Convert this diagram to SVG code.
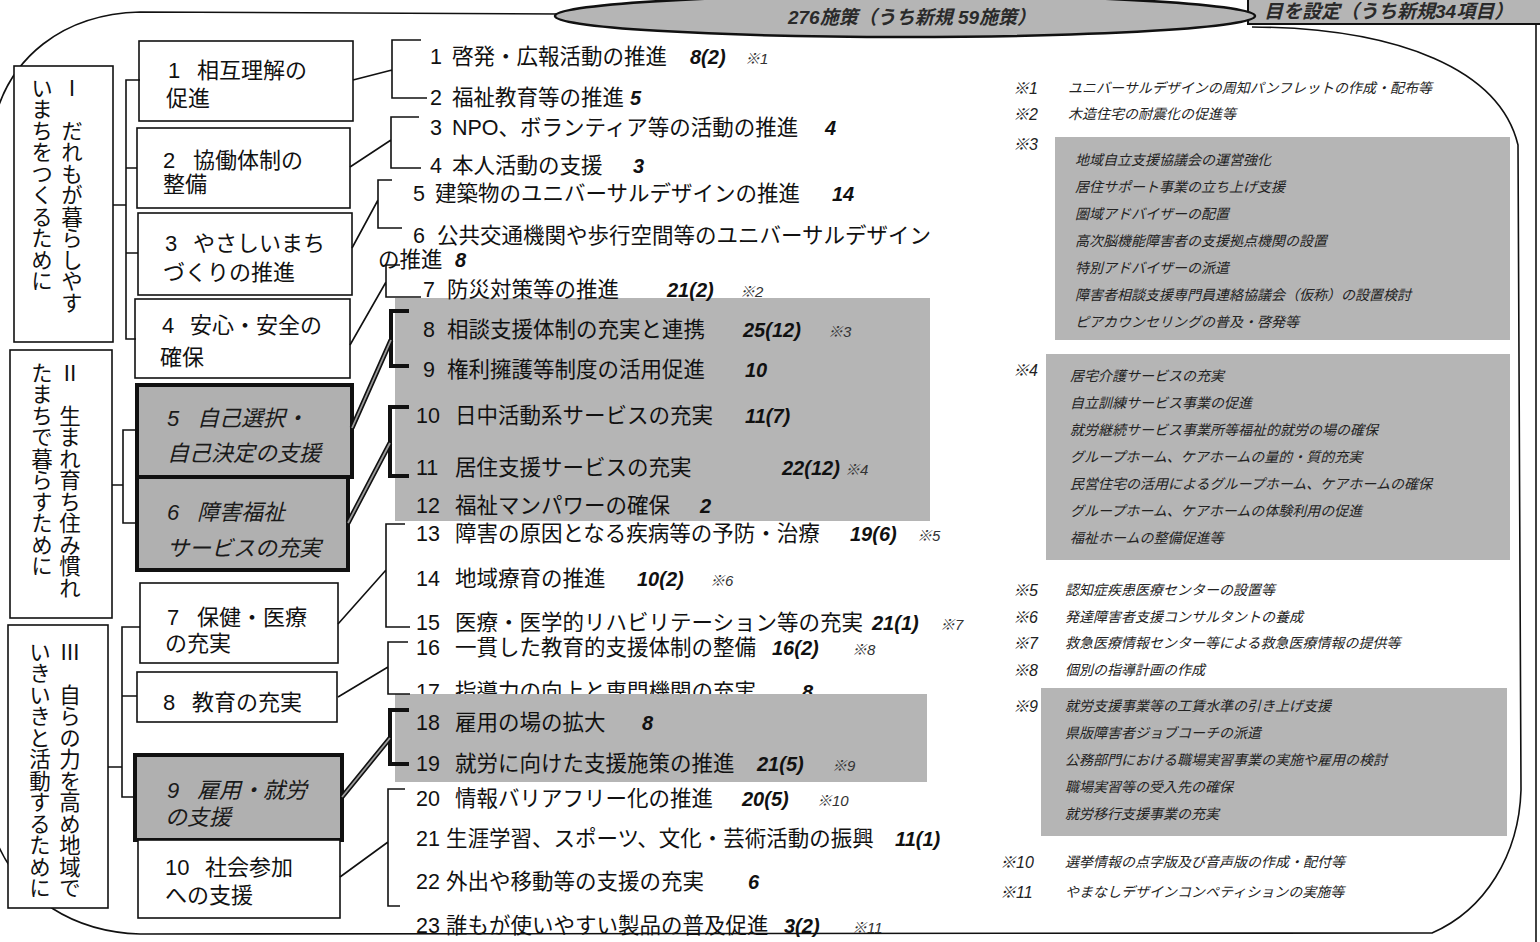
<svg xmlns="http://www.w3.org/2000/svg" width="1540" height="942" viewBox="0 0 1540 942">
<style>
text{font-family:"Liberation Sans","Noto Sans CJK JP",sans-serif;fill:#111}
.t{font-size:21.5px}
.c{font-size:22px}
.ci{font-size:22px;font-style:italic;fill:#1a1a1a}
.n{font-size:20px;font-weight:bold;font-style:italic}
.k{font-size:15px;font-style:italic;fill:#333}
.v{font-family:"Noto Sans CJK JP",sans-serif;font-size:21.5px;writing-mode:vertical-rl}
.nl{font-size:16px;font-style:italic;fill:#222}
.nt{font-family:"Noto Sans CJK JP",sans-serif;font-size:14px;font-style:italic;fill:#222}
.hd{font-family:"Liberation Sans","Noto Sans CJK JP",sans-serif;font-size:19px;font-style:italic;font-weight:bold;fill:#2a2a2a}
.box{fill:#fff;stroke:#111;stroke-width:1.6}
.gbox{fill:#b0b0b0;stroke:#111;stroke-width:4}
.shade{fill:#b5b5b5}
.ln{fill:none;stroke:#111;stroke-width:1.6}
.th{fill:none;stroke:#111;stroke-width:4}
.tc{fill:none;stroke:#111;stroke-width:5}
.tci{fill:none;stroke:#9a9a9a;stroke-width:1.8}
</style>

<g id="frame">
<path class="ln" d="M-5,118 C10,60 60,14 140,12 L560,14"/>
<path class="ln" d="M1252,27 C1400,28 1500,70 1518,145 L1521,790 C1519,855 1485,910 1432,933 L140,934 C75,932 20,900 -5,838"/>
<line class="ln" x1="1536" y1="0" x2="1536" y2="942"/>
</g>

<g id="header">
<rect x="1248" y="-5" width="300" height="29" class="shade" stroke="#111" stroke-width="2"/>
<text class="hd" x="1264" y="18" font-size="20">目を設定（うち新規34項目）</text>
<ellipse cx="905" cy="16" rx="350" ry="21" class="shade" stroke="#111" stroke-width="2.5"/>
<text class="hd" x="912" y="24" text-anchor="middle">276施策（うち新規 59施策）</text>
</g>

<g id="shading">
<rect class="shade" x="395" y="298" width="535" height="223"/>
<rect class="shade" x="1055" y="137" width="455" height="203"/>
<rect class="shade" x="1046" y="354" width="464" height="206"/>
<rect class="shade" x="1041" y="688" width="466" height="148"/>
</g>

<g id="goals">
<g id="goal-1">
<rect class="box" x="14" y="66" width="99" height="276"/>
<text class="v" x="72" y="77">Ⅰ　だれもが暮らしやす</text>
<text class="v" x="42" y="77">いまちをつくるために</text>
</g>
<g id="goal-2">
<rect class="box" x="10" y="350" width="102" height="268"/>
<text class="v" x="70" y="362">Ⅱ　生まれ育ち住み慣れ</text>
<text class="v" x="42" y="362">たまちで暮らすために</text>
</g>
<g id="goal-3">
<rect class="box" x="8" y="625" width="100" height="283"/>
<text class="v" x="70" y="641">Ⅲ　自らの力を高め地域で</text>
<text class="v" x="40" y="641">いきいきと活動するために</text>
</g>
</g>

<g id="categories">
<g id="cat-1"><rect class="box" x="139" y="41" width="214" height="80"/>
<text class="c" x="168" y="78">1<tspan x="197">相互理解の</tspan></text><text class="c" x="166" y="106">促進</text></g>
<g id="cat-2"><rect class="box" x="137" y="128" width="213" height="80"/>
<text class="c" x="163" y="168">2<tspan x="193">協働体制の</tspan></text><text class="c" x="163" y="192">整備</text></g>
<g id="cat-3"><rect class="box" x="138" y="213" width="214" height="82"/>
<text class="c" x="165" y="251">3<tspan x="193">やさしいまち</tspan></text><text class="c" x="163" y="280">づくりの推進</text></g>
<g id="cat-4"><rect class="box" x="135" y="299" width="215" height="79"/>
<text class="c" x="162" y="333">4<tspan x="190">安心・安全の</tspan></text><text class="c" x="160" y="365">確保</text></g>
<g id="cat-5"><rect class="gbox" x="137" y="385" width="215" height="92"/>
<text class="ci" x="167" y="426">5<tspan x="197">自己選択・</tspan></text><text class="ci" x="167" y="461">自己決定の支援</text></g>
<g id="cat-6"><rect class="gbox" x="137" y="477" width="211" height="93"/>
<text class="ci" x="167" y="520">6<tspan x="197">障害福祉</tspan></text><text class="ci" x="167" y="556">サービスの充実</text></g>
<g id="cat-7"><rect class="box" x="140" y="583" width="198" height="80"/>
<text class="c" x="167" y="625">7<tspan x="197">保健・医療</tspan></text><text class="c" x="165" y="651">の充実</text></g>
<g id="cat-8"><rect class="box" x="137" y="672" width="200" height="50"/>
<text class="c" x="163" y="710">8<tspan x="192">教育の充実</tspan></text></g>
<g id="cat-9"><rect class="gbox" x="135" y="755" width="207" height="85"/>
<text class="ci" x="167" y="798">9<tspan x="197">雇用・就労</tspan></text><text class="ci" x="165" y="825">の支援</text></g>
<g id="cat-10"><rect class="box" x="138" y="840" width="202" height="78"/>
<text class="c" x="165" y="875">10<tspan x="205">社会参加</tspan></text><text class="c" x="165" y="903">への支援</text></g>
</g>

<g id="measures">
<text class="t" x="430" y="64">1<tspan x="452">啓発・広報活動の推進</tspan><tspan class="n" x="690">8(2)</tspan><tspan class="k" x="745">※1</tspan></text>
<text class="t" x="430" y="105">2<tspan x="452">福祉教育等の推進</tspan><tspan class="n" x="630">5</tspan></text>
<text class="t" x="430" y="135">3<tspan x="452">NPO、ボランティア等の活動の推進</tspan><tspan class="n" x="825">4</tspan></text>
<text class="t" x="430" y="173">4<tspan x="452">本人活動の支援</tspan><tspan class="n" x="633">3</tspan></text>
<text class="t" x="413" y="201">5<tspan x="435">建築物のユニバーサルデザインの推進</tspan><tspan class="n" x="832">14</tspan></text>
<text class="t" x="413" y="243">6<tspan x="437">公共交通機関や歩行空間等のユニバーサルデザイン</tspan></text>
<text class="t" x="378" y="267">の推進<tspan class="n" x="455">8</tspan></text>
<text class="t" x="423" y="297">7<tspan x="447">防災対策等の推進</tspan><tspan class="n" x="667">21(2)</tspan><tspan class="k" x="740">※2</tspan></text>
<text class="t" x="423" y="337">8<tspan x="447">相談支援体制の充実と連携</tspan><tspan class="n" x="743">25(12)</tspan><tspan class="k" x="828">※3</tspan></text>
<text class="t" x="423" y="377">9<tspan x="447">権利擁護等制度の活用促進</tspan><tspan class="n" x="745">10</tspan></text>
<text class="t" x="416" y="423">10<tspan x="455">日中活動系サービスの充実</tspan><tspan class="n" x="745">11(7)</tspan></text>
<text class="t" x="416" y="475">11<tspan x="455">居住支援サービスの充実</tspan><tspan class="n" x="782">22(12)</tspan><tspan class="k" x="845">※4</tspan></text>
<text class="t" x="416" y="513">12<tspan x="455">福祉マンパワーの確保</tspan><tspan class="n" x="700">2</tspan></text>
<text class="t" x="416" y="541">13<tspan x="455">障害の原因となる疾病等の予防・治療</tspan><tspan class="n" x="850">19(6)</tspan><tspan class="k" x="917">※5</tspan></text>
<text class="t" x="416" y="586">14<tspan x="455">地域療育の推進</tspan><tspan class="n" x="637">10(2)</tspan><tspan class="k" x="710">※6</tspan></text>
<text class="t" x="416" y="630">15<tspan x="455">医療・医学的リハビリテーション等の充実</tspan><tspan class="n" x="872">21(1)</tspan><tspan class="k" x="940">※7</tspan></text>
<text class="t" x="416" y="655">16<tspan x="455">一貫した教育的支援体制の整備</tspan><tspan class="n" x="772">16(2)</tspan><tspan class="k" x="852">※8</tspan></text>
<text class="t" x="416" y="699">17<tspan x="455">指導力の向上と専門機関の充実</tspan><tspan class="n" x="802">8</tspan></text>
<rect class="shade" x="395" y="694" width="532" height="88"/>
<text class="t" x="416" y="730">18<tspan x="455">雇用の場の拡大</tspan><tspan class="n" x="642">8</tspan></text>
<text class="t" x="416" y="771">19<tspan x="455">就労に向けた支援施策の推進</tspan><tspan class="n" x="757">21(5)</tspan><tspan class="k" x="832">※9</tspan></text>
<text class="t" x="416" y="806">20<tspan x="455">情報バリアフリー化の推進</tspan><tspan class="n" x="742">20(5)</tspan><tspan class="k" x="817">※10</tspan></text>
<text class="t" x="416" y="846">21<tspan x="446">生涯学習、スポーツ、文化・芸術活動の振興</tspan><tspan class="n" x="895">11(1)</tspan></text>
<text class="t" x="416" y="889">22<tspan x="446">外出や移動等の支援の充実</tspan><tspan class="n" x="748">6</tspan></text>
<text class="t" x="416" y="933">23<tspan x="446">誰もが使いやすい製品の普及促進</tspan><tspan class="n" x="784">3(2)</tspan><tspan class="k" x="852">※11</tspan></text>
</g>

<g id="notes">
<text class="nl" x="1013" y="94">※1</text><text class="nt" x="1068" y="93">ユニバーサルデザインの周知パンフレットの作成・配布等</text>
<text class="nl" x="1013" y="120">※2</text><text class="nt" x="1068" y="119">木造住宅の耐震化の促進等</text>
<text class="nl" x="1013" y="150">※3</text>
<text class="nt" x="1075" y="165">地域自立支援協議会の運営強化</text>
<text class="nt" x="1075" y="192">居住サポート事業の立ち上げ支援</text>
<text class="nt" x="1075" y="219">圏域アドバイザーの配置</text>
<text class="nt" x="1075" y="246">高次脳機能障害者の支援拠点機関の設置</text>
<text class="nt" x="1075" y="273">特別アドバイザーの派遣</text>
<text class="nt" x="1075" y="300">障害者相談支援専門員連絡協議会（仮称）の設置検討</text>
<text class="nt" x="1075" y="327">ピアカウンセリングの普及・啓発等</text>
<text class="nl" x="1013" y="376">※4</text>
<text class="nt" x="1070" y="381">居宅介護サービスの充実</text>
<text class="nt" x="1070" y="408">自立訓練サービス事業の促進</text>
<text class="nt" x="1070" y="435">就労継続サービス事業所等福祉的就労の場の確保</text>
<text class="nt" x="1070" y="462">グループホーム、ケアホームの量的・質的充実</text>
<text class="nt" x="1070" y="489">民営住宅の活用によるグループホーム、ケアホームの確保</text>
<text class="nt" x="1070" y="516">グループホーム、ケアホームの体験利用の促進</text>
<text class="nt" x="1070" y="543">福祉ホームの整備促進等</text>
<text class="nl" x="1013" y="596">※5</text><text class="nt" x="1065" y="595">認知症疾患医療センターの設置等</text>
<text class="nl" x="1013" y="623">※6</text><text class="nt" x="1065" y="622">発達障害者支援コンサルタントの養成</text>
<text class="nl" x="1013" y="649">※7</text><text class="nt" x="1065" y="648">救急医療情報センター等による救急医療情報の提供等</text>
<text class="nl" x="1013" y="676">※8</text><text class="nt" x="1065" y="675">個別の指導計画の作成</text>
<text class="nl" x="1013" y="712">※9</text>
<text class="nt" x="1065" y="711">就労支援事業等の工賃水準の引き上げ支援</text>
<text class="nt" x="1065" y="738">県版障害者ジョブコーチの派遣</text>
<text class="nt" x="1065" y="765">公務部門における職場実習事業の実施や雇用の検討</text>
<text class="nt" x="1065" y="792">職場実習等の受入先の確保</text>
<text class="nt" x="1065" y="819">就労移行支援事業の充実</text>
<text class="nl" x="1000" y="868">※10</text><text class="nt" x="1065" y="867">選挙情報の点字版及び音声版の作成・配付等</text>
<text class="nl" x="1000" y="898">※11</text><text class="nt" x="1065" y="897">やまなしデザインコンペティションの実施等</text>
</g>

<g id="connectors">
<path class="ln" d="M113,205 H126 M140,80 H126 V339 H136 M126,168 H137 M126,253 H138"/>
<path class="ln" d="M112,485 H123 M137,430 H123 V523 H137"/>
<path class="ln" d="M108,767 H122 M140,627 H122 V797 H135 M122,696 H137"/>
<path class="ln" d="M421,40 H392 V98 H427 M353,80 L392,70"/>
<path class="ln" d="M419,117 H391 V168 H421 M350,167 L391,140"/>
<path class="ln" d="M392,180 H378 V228 H402 M352,248 L378,200"/>
<path class="ln" d="M400,265 H386 V297 H421 M350,345 L386,282"/>
<path class="th" d="M409,311 H391 V366 H409"/>
<path class="th" d="M409,407 H390 V476 H409"/>
<path class="th" d="M409,710 H390 V764 H409"/>
<path class="tc" d="M352,428 L391,340 M348,523 L390,443 M342,797 L390,738"/>
<path class="tci" d="M352,428 L391,340 M348,523 L390,443 M342,797 L390,738"/>
<path class="ln" d="M405,524 H386 V627 H410 M338,624 L386,570"/>
<path class="ln" d="M408,642 H388 V694 H410 M338,697 L388,667"/>
<path class="ln" d="M405,789 H388 V906 H400 M340,877 L388,842"/>
</g>
</svg>
